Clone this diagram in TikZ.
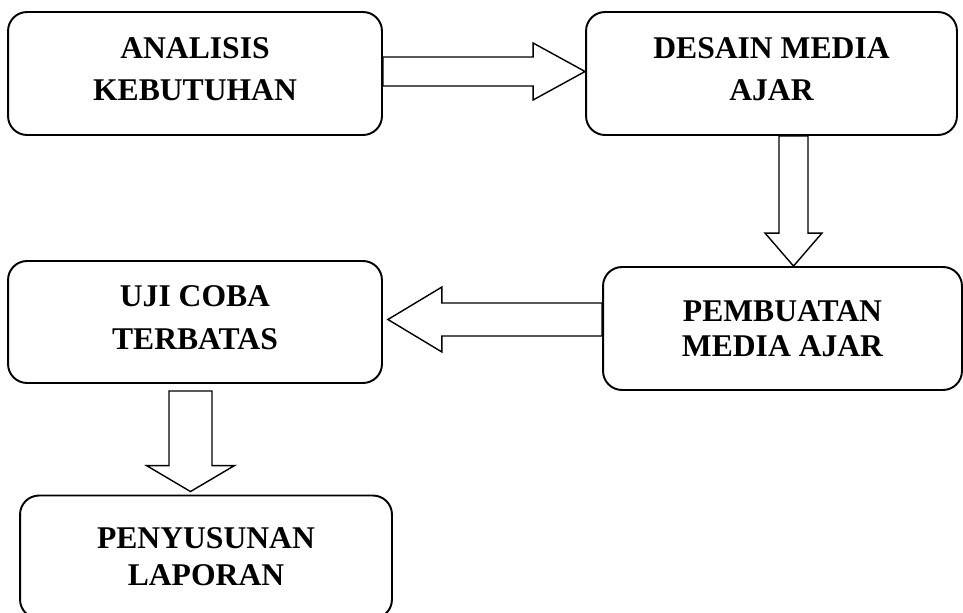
\documentclass[tikz,border=0pt]{standalone}
\usepackage{fontspec}
\setmainfont{Liberation Serif}
\usetikzlibrary{calc,backgrounds}
\tikzset{
  stage/.style={draw=black, line width=1.1pt, rounded corners=0.38cm, fill=white, align=center, inner sep=0pt,
    font=\bfseries\fontsize{18}{#1}\selectfont},
  stage/.default=24,
  barrow/.style n args={3}{draw=black, line width=0.8pt, fill=white, to path={
    ($(\tikztostart)!#1!90:(\tikztotarget)$)
    -- ($(\tikztotarget)!#3!(\tikztostart)!#1!90:(\tikztotarget)$)
    -- ($(\tikztotarget)!#3!(\tikztostart)!#2!90:(\tikztotarget)$)
    -- (\tikztotarget)
    -- ($(\tikztotarget)!#3!(\tikztostart)!#2!-90:(\tikztotarget)$)
    -- ($(\tikztotarget)!#3!(\tikztostart)!#1!-90:(\tikztotarget)$)
    -- ($(\tikztostart)!#1!-90:(\tikztotarget)$) -- cycle}},
}

\begin{document}
\begin{tikzpicture}[x=0.02cm,y=-0.02cm]
\useasboundingbox (0,0) rectangle (963,612);
% stages
\node[stage, text depth=5pt, minimum width=7.48cm, minimum height=2.46cm] (ana) at (195,73.5) {ANALISIS\\KEBUTUHAN};
\node[stage, text depth=5pt, minimum width=7.42cm, minimum height=2.46cm] (des) at (771.5,73.5) {DESAIN MEDIA\\AJAR};
\node[stage=20, minimum width=7.18cm, minimum height=2.46cm] (pem) at (782.5,328.5) {PEMBUATAN\\MEDIA AJAR};
\node[stage, text depth=5pt, minimum width=7.48cm, minimum height=2.44cm] (uji) at (195,322) {UJI COBA\\TERBATAS};
\node[stage=21, minimum width=7.44cm, minimum height=2.46cm] (pen) at (206,557) {PENYUSUNAN\\LAPORAN};
% block arrows
\coordinate (a1s) at ($(ana.east)+(0,-2)$);
\coordinate (a1t) at (a1s -| des.west);
\coordinate (a2s) at ($(des.south)+(22,0)$);
\coordinate (a2t) at (a2s |- pem.north);
\coordinate (a3s) at ($(pem.west)+(0,-9)$);
\coordinate (a3t) at ($(a3s -| uji.east)+(5,0)$);
\coordinate (a4s) at ($(uji.south)+(-4.5,7)$);
\coordinate (a4t) at ($(a4s |- pen.north)+(0,-3)$);
\begin{scope}[on background layer]
\draw[barrow={0.29cm}{0.57cm}{1.04cm}] (a1s) to (a1t);
\draw[barrow={0.29cm}{0.57cm}{0.66cm}] (a2s) to (a2t);
\draw[barrow={0.33cm}{0.65cm}{1.08cm}] (a3s) to (a3t);
\end{scope}
\draw[barrow={0.43cm}{0.88cm}{0.52cm}] (a4s) to (a4t);
\end{tikzpicture}
\end{document}
